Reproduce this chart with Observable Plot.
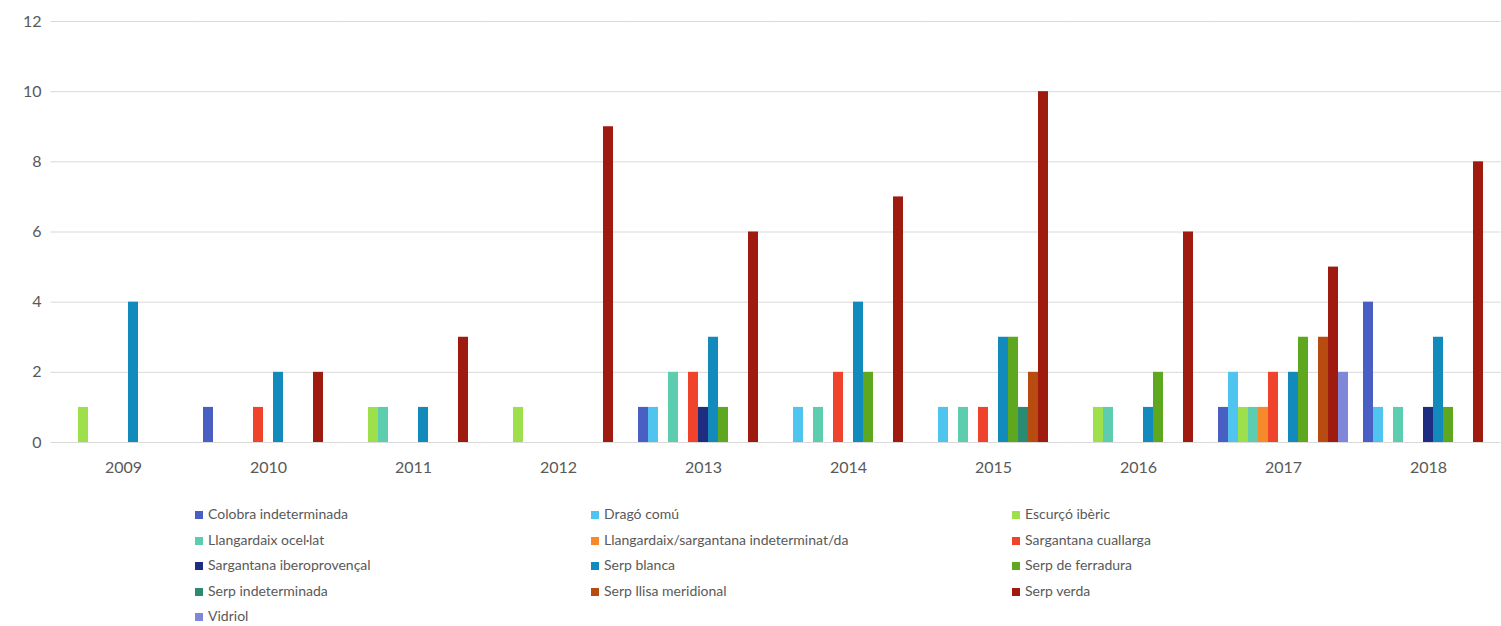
<!DOCTYPE html>
<html>
<head>
<meta charset="utf-8">
<script src="https://cdn.jsdelivr.net/npm/d3@7"></script>
<script src="https://cdn.jsdelivr.net/npm/@observablehq/plot@0.6"></script>
<style>
  body { margin: 0; background: #fff; font-family: Lato, "Open Sans", sans-serif; }
  #chart svg { display: block; }
  .legend {
    display: grid;
    grid-template-columns: 396px 421px auto;
    padding: 19px 0 0 195px;
    font-size: 14px;
    color: #595959;
    line-height: 25.5px;
  }
  .legend .item { white-space: nowrap; }
  .legend .sw { display: inline-block; width: 8px; height: 8px; margin-right: 5px; vertical-align: 0px; }
</style>
</head>
<body>
<div id="chart"></div>
<div class="legend" id="legend"></div>
<script>
// Years on the category axis
const years = ["2009", "2010", "2011", "2012", "2013", "2014", "2015", "2016", "2017", "2018"];

// Species, in legend / bar order
const species = [
  "Colobra indeterminada",
  "Dragó comú",
  "Escurçó ibèric",
  "Llangardaix ocel·lat",
  "Llangardaix/sargantana indeterminat/da",
  "Sargantana cuallarga",
  "Sargantana iberoprovençal",
  "Serp blanca",
  "Serp de ferradura",
  "Serp indeterminada",
  "Serp llisa meridional",
  "Serp verda",
  "Vidriol"
];

const colors = [
  "#4a5fc4", "#4fc4ee", "#9ee04c", "#5dcdb0", "#f6892a", "#f0432c",
  "#1f2d80", "#128abb", "#5ea820", "#2a8a72", "#b84c10", "#a01b0f", "#7f88d8"
];

// Counts per year (2009 … 2018), one array per species
const colobraIndeterminada   = [0, 1, 0, 0, 1, 0, 0, 0, 1, 4];
const dragoComu              = [0, 0, 0, 0, 1, 1, 1, 0, 2, 1];
const escurcoIberic          = [1, 0, 1, 1, 0, 0, 0, 1, 1, 0];
const llangardaixOcellat     = [0, 0, 1, 0, 2, 1, 1, 1, 1, 1];
const llangSargIndeterminat  = [0, 0, 0, 0, 0, 0, 0, 0, 1, 0];
const sargantanaCuallarga    = [0, 1, 0, 0, 2, 2, 1, 0, 2, 0];
const sargantanaIberoprov    = [0, 0, 0, 0, 1, 0, 0, 0, 0, 1];
const serpBlanca             = [4, 2, 1, 0, 3, 4, 3, 1, 2, 3];
const serpFerradura          = [0, 0, 0, 0, 1, 2, 3, 2, 3, 1];
const serpIndeterminada      = [0, 0, 0, 0, 0, 0, 1, 0, 0, 0];
const serpLlisaMeridional    = [0, 0, 0, 0, 0, 0, 2, 0, 3, 0];
const serpVerda              = [0, 2, 3, 9, 6, 7, 10, 6, 5, 8];
const vidriol                = [0, 0, 0, 0, 0, 0, 0, 0, 2, 0];

const yTicks = [0, 2, 4, 6, 8, 10, 12];

const series = [
  colobraIndeterminada, dragoComu, escurcoIberic, llangardaixOcellat,
  llangSargIndeterminat, sargantanaCuallarga, sargantanaIberoprov, serpBlanca,
  serpFerradura, serpIndeterminada, serpLlisaMeridional, serpVerda, vidriol
];

// Long-format table for Plot
const data = [];
species.forEach((s, i) => {
  years.forEach((y, j) => {
    const v = series[i][j];
    if (v > 0) data.push({year: y, species: s, value: v});
  });
});

// Gap between year groups, in px; gridlines stretch across it so they read as continuous
const groupGap = 15;

const chart = Plot.plot({
  width: 1501,
  height: 482,
  marginLeft: 50,
  marginRight: 1,
  marginTop: 21,
  marginBottom: 40,
  style: {fontFamily: "Lato, 'Open Sans', sans-serif", color: "#595959", background: "#fff"},
  fx: {domain: years, paddingInner: groupGap / 145, paddingOuter: groupGap / 2 / 145, label: null},
  x: {domain: species, paddingInner: 0, paddingOuter: 0, axis: null},
  y: {domain: [0, 12], label: null},
  color: {domain: species, range: colors},
  marks: [
    Plot.ruleY(yTicks, {stroke: "#d9d9d9", strokeWidth: 1, insetLeft: -groupGap / 2, insetRight: -groupGap / 2}),
    Plot.barY(data, {fx: "year", x: "species", y: "value", fill: "species"}),
    Plot.axisY({ticks: yTicks, tickSize: 0, tickPadding: 17, fontSize: 16, label: null}),
    Plot.axisFx({anchor: "bottom", tickSize: 0, tickPadding: 19, fontSize: 16, label: null})
  ]
});
document.getElementById("chart").appendChild(chart);

// Legend below the chart, three columns filled row by row
const legend = document.getElementById("legend");
species.forEach((s, i) => {
  const item = document.createElement("div");
  item.className = "item";
  const sw = document.createElement("span");
  sw.className = "sw";
  sw.style.background = colors[i];
  item.appendChild(sw);
  item.appendChild(document.createTextNode(s));
  legend.appendChild(item);
});
</script>
</body>
</html>
